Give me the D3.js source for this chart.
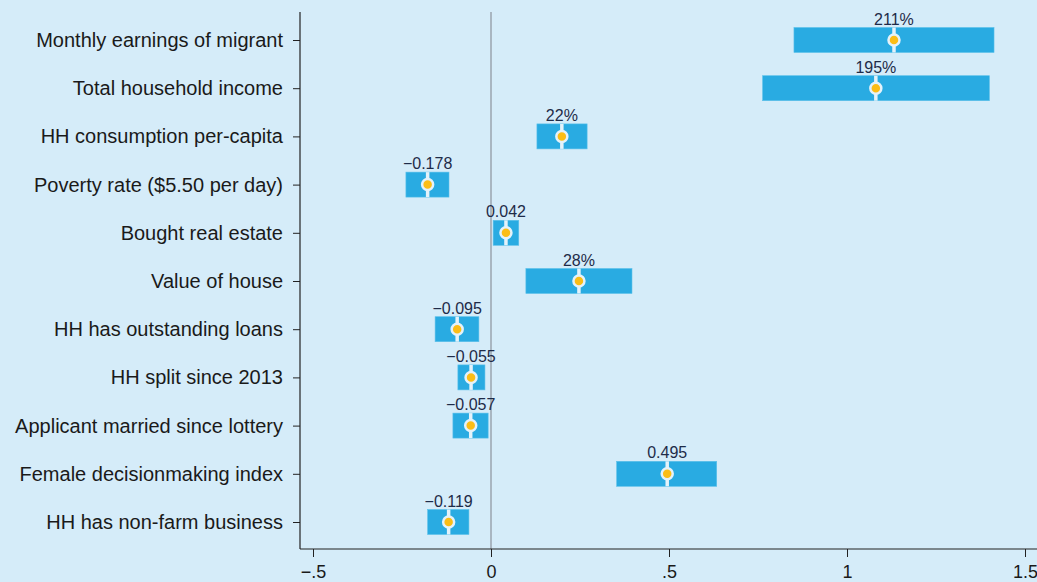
<!DOCTYPE html>
<html>
<head>
<meta charset="utf-8">
<script src="https://cdn.jsdelivr.net/npm/d3@7"></script>
<style>
	body { margin: 0; background: #d5ecf9; }
	svg { display: block; font-family: "Liberation Sans", Arial, sans-serif; }
</style>
</head>
<body>
<div id="chart"></div>
<script>
// outcomes, top to bottom
let outcomes = [
	"Monthly earnings of migrant",
	"Total household income",
	"HH consumption per-capita",
	"Poverty rate ($5.50 per day)",
	"Bought real estate",
	"Value of house",
	"HH has outstanding loans",
	"HH split since 2013",
	"Applicant married since lottery",
	"Female decisionmaking index",
	"HH has non-farm business"
];
let estimates = [1.132, 1.081, 0.199, -0.178, 0.042, 0.247, -0.095, -0.056, -0.057, 0.495, -0.119];
let ci_low = [0.851, 0.763, 0.129, -0.239, 0.006, 0.098, -0.157, -0.093, -0.107, 0.353, -0.178];
let ci_high = [1.413, 1.400, 0.270, -0.118, 0.078, 0.396, -0.034, -0.017, -0.008, 0.634, -0.062];
let est_labels = ["211%", "195%", "22%", "\u22120.178", "0.042", "28%", "\u22120.095", "\u22120.055", "\u22120.057", "0.495", "\u22120.119"];
let x_ticks = [-0.5, 0, 0.5, 1, 1.5];
let x_tick_labels = ["\u2212.5", "0", ".5", "1", "1.5"];

let width = 1037;
let height = 582;

let rows = outcomes.map((d, i) => ({
	name: d,
	est: estimates[i],
	lo: ci_low[i],
	hi: ci_high[i],
	label: est_labels[i]
}));

let svg = d3.select("#chart")
	.append("svg")
	.attr("width", width)
	.attr("height", height);

svg.append("rect")
	.attr("width", width)
	.attr("height", height)
	.attr("fill", "#d5ecf9");

let x = d3.scaleLinear()
	.domain([-0.5, 1.5])
	.range([313, 1025]);

let y = d3.scalePoint()
	.domain(outcomes)
	.range([40, 522]);

let plot_left = 300;
let plot_top = 12;
let plot_bottom = 549;
let bar_h = 25;

// zero line
svg.append("line")
	.attr("x1", x(0)).attr("x2", x(0))
	.attr("y1", plot_top).attr("y2", plot_bottom)
	.attr("stroke", "#9aa5ae")
	.attr("stroke-width", 1.5);

// bars (confidence intervals)
svg.append("g")
	.selectAll("rect")
	.data(rows)
	.enter()
	.append("rect")
	.attr("x", d => x(d.lo))
	.attr("y", d => y(d.name) - bar_h / 2)
	.attr("width", d => x(d.hi) - x(d.lo))
	.attr("height", bar_h)
	.attr("fill", "#29abe2")
	.attr("stroke", "#5cc0ea")
	.attr("stroke-width", 0.6);

// white gap at the point estimate
svg.append("g")
	.selectAll("line")
	.data(rows)
	.enter()
	.append("line")
	.attr("x1", d => x(d.est)).attr("x2", d => x(d.est))
	.attr("y1", d => y(d.name) - bar_h / 2)
	.attr("y2", d => y(d.name) + bar_h / 2)
	.attr("stroke", "#e4f2fa")
	.attr("stroke-width", 3.5);

// dots
svg.append("g")
	.selectAll("circle")
	.data(rows)
	.enter()
	.append("circle")
	.attr("cx", d => x(d.est))
	.attr("cy", d => y(d.name))
	.attr("r", 5.5)
	.attr("fill", "#fbbd16")
	.attr("stroke", "#e4f2fa")
	.attr("stroke-width", 2.5);

// value labels
svg.append("g")
	.selectAll("text")
	.data(rows)
	.enter()
	.append("text")
	.attr("x", d => x(d.est))
	.attr("y", d => y(d.name) - bar_h / 2 - 3)
	.attr("text-anchor", "middle")
	.attr("font-size", 16)
	.attr("fill", "#1e2b48")
	.text(d => d.label);

// y axis
let yAxis = svg.append("g")
	.attr("transform", "translate(" + plot_left + ",0)")
	.call(d3.axisLeft(y).tickSize(7).tickPadding(10))
	.call(g => g.select(".domain").remove());
yAxis.selectAll("text")
	.attr("font-size", 20)
	.attr("fill", "#1a1a1a")
	.attr("font-family", "'Liberation Sans', Arial, sans-serif");
yAxis.selectAll("line").attr("stroke", "#222");
svg.append("line")
	.attr("x1", plot_left).attr("x2", plot_left)
	.attr("y1", plot_top).attr("y2", plot_bottom)
	.attr("stroke", "#222")
	.attr("stroke-width", 1.2);

// x axis
let xAxis = svg.append("g")
	.attr("transform", "translate(0," + plot_bottom + ")")
	.call(d3.axisBottom(x).tickValues(x_ticks).tickFormat((d, i) => x_tick_labels[i]).tickSize(8).tickPadding(8))
	.call(g => g.select(".domain").remove());
xAxis.selectAll("text")
	.attr("font-size", 18)
	.attr("fill", "#1a1a1a")
	.attr("font-family", "'Liberation Sans', Arial, sans-serif");
xAxis.selectAll("line").attr("stroke", "#222");
svg.append("line")
	.attr("x1", plot_left).attr("x2", width)
	.attr("y1", plot_bottom).attr("y2", plot_bottom)
	.attr("stroke", "#222")
	.attr("stroke-width", 1.2);
</script>
</body>
</html>
